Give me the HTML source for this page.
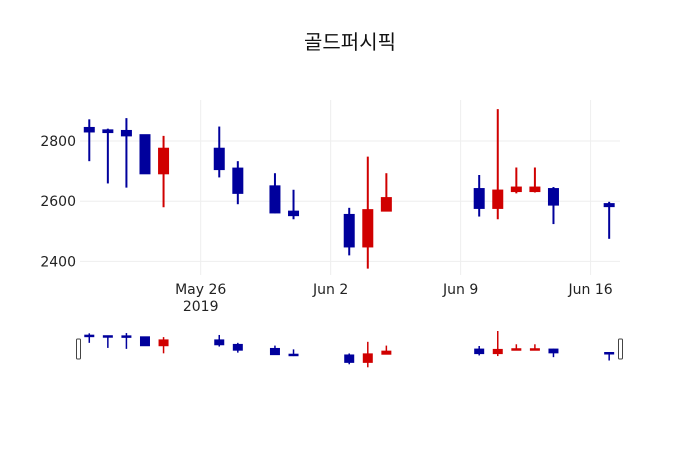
<!DOCTYPE html>
<html><head><meta charset="utf-8">
<style>
html,body{margin:0;padding:0;background:#fff;}
svg{display:block;font-family:"Liberation Sans","Noto Sans CJK KR",sans-serif;}
.tk{font-family:"DejaVu Sans","Liberation Sans",sans-serif;}
</style></head>
<body>
<svg id="chart" width="700" height="450" viewBox="0 0 700 450" xmlns="http://www.w3.org/2000/svg">
<text x="350" y="49" text-anchor="middle" font-size="20" fill="#111">골드퍼시픽</text>
<g id="grid"></g>
<g id="ticks" class="tk"></g>
<g id="candles"></g>
<g id="slider"></g>
</svg>
<script>
const dates = ["2019-05-20","2019-05-21","2019-05-22","2019-05-23","2019-05-24","2019-05-27","2019-05-28","2019-05-30","2019-05-31","2019-06-03","2019-06-04","2019-06-05","2019-06-10","2019-06-11","2019-06-12","2019-06-13","2019-06-14","2019-06-17"];
const opens  = [2845,2837,2835,2821,2691,2776,2710,2651,2567,2556,2448,2567,2642,2576,2632,2632,2642,2592];
const closes = [2830,2828,2817,2691,2776,2705,2626,2561,2552,2448,2572,2612,2576,2637,2647,2647,2587,2582];
const highs  = [2872,2841,2876,2821,2817,2848,2733,2693,2638,2578,2748,2693,2687,2906,2712,2712,2647,2598];
const lows   = [2733,2659,2645,2691,2580,2679,2590,2560,2540,2420,2376,2567,2549,2540,2626,2629,2524,2475];
const yTicks = [2400,2600,2800];
const xTicks = [["2019-05-26","May 26","2019"],["2019-06-02","Jun 2",""],["2019-06-09","Jun 9",""],["2019-06-16","Jun 16",""]];

const NS="http://www.w3.org/2000/svg";
const x0=Date.parse("2019-05-19T12:00:00Z"), x1=Date.parse("2019-06-17T14:00:00Z");
const L=80,R=620,T=100,B=275;
function xs(d){return L+(Date.parse(d+"T00:00:00Z")-x0)/(x1-x0)*(R-L);}
function ys(v){return 141-(v-2800)*0.301;}
function ysl(v){return 367.3-(v-2376)*0.0685;}
function mk(tag,attrs,parent){const e=document.createElementNS(NS,tag);for(const k in attrs)e.setAttribute(k,attrs[k]);parent.appendChild(e);return e;}
const grid=document.getElementById('grid'),ticks=document.getElementById('ticks'),cg=document.getElementById('candles'),sl=document.getElementById('slider');
yTicks.forEach(v=>{
  const l=mk('line',{x1:L,x2:R,y1:ys(v),y2:ys(v),stroke:'#eee','stroke-width':1},grid);
  
  
  const t=mk('text',{x:76,y:ys(v)+5,'text-anchor':'end','font-size':14,fill:'#222'},ticks);
  t.textContent=v;
  
  
});
xTicks.forEach(a=>{
  const x=xs(a[0]);
  const l=mk('line',{x1:x,x2:x,y1:T,y2:B,stroke:'#eee','stroke-width':1},grid);
  
  
  const t=mk('text',{x:x,y:294,'text-anchor':'middle','font-size':14,fill:'#222'},ticks);
  t.textContent=a[1];
  
  
  if(a[2]){const t2=mk('text',{x:x,y:311,'text-anchor':'middle','font-size':14,fill:'#222'},ticks);
  t2.textContent=a[2];
  
  }
});
function candle(i,parent,yf,bw,ww){
  const up=closes[i]>opens[i];const c=up?'#d00000':'#00009c';
  const x=xs(dates[i]);
  const g=mk('g',{},parent);
  
  
  mk('line',{x1:x,x2:x,y1:yf(highs[i]),y2:yf(lows[i]),stroke:c,'stroke-width':ww},g);
  const top=yf(Math.max(opens[i],closes[i])),bot=yf(Math.min(opens[i],closes[i]));
  mk('rect',{x:x-bw/2,y:top,width:bw,height:Math.max(bot-top,1.5),fill:c,stroke:c,'stroke-width':1},g);
}
for(let i=0;i<dates.length;i++){candle(i,cg,ys,10,2);candle(i,sl,ysl,9,1.5);}
[L-2,R].forEach((x,k)=>{
  const h=mk('rect',{x:x-1.5,y:339,width:4,height:20,rx:1,fill:'#fff',stroke:'#444','stroke-width':1},sl);
  
  
});
</script>
</body></html>
